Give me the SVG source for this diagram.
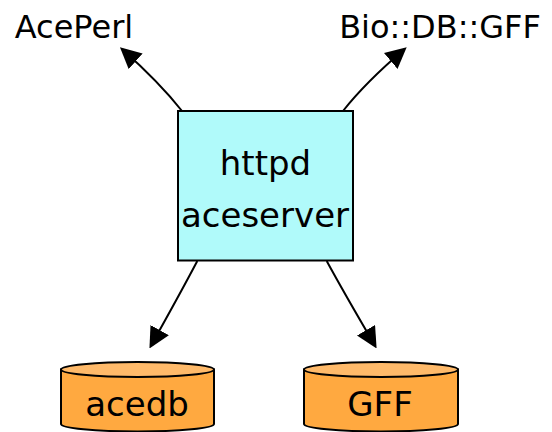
<svg xmlns="http://www.w3.org/2000/svg" width="552" height="432" viewBox="0 0 552 432">
  <style>
    text { font-family: "Comic Sans MS", "DejaVu Sans", sans-serif; fill: #000; text-anchor: middle; }
    .lbl { font-size: 32px; }
    .srv { font-size: 34px; }
    .db { font-size: 34px; }
    .box { fill: #B0FAFA; stroke: #000; stroke-width: 2; }
    .body { fill: #FFA940; stroke: #000; stroke-width: 2; }
    .lid { fill: #FFBA6A; stroke: #000; stroke-width: 2; }
    .edge { fill: none; stroke: #000; stroke-width: 2; marker-end: url(#arrow); }
  </style>
  <defs>
    <marker id="arrow" markerUnits="userSpaceOnUse" markerWidth="21" markerHeight="21" refX="18" refY="10.5" orient="auto">
      <path d="M0,0 L21,10.5 L0,21 z" fill="#000"/>
    </marker>
  </defs>

  <rect width="552" height="432" fill="#fff"/>

  <g id="connectors">
    <path class="edge" d="M182,111 Q159,82 122.2,49.3"/>
    <path class="edge" d="M343,111 Q366,82 404.4,49.3"/>
    <path class="edge" d="M197.3,261 Q181,292 150.9,345.8"/>
    <path class="edge" d="M326.7,261 Q343,291 375.1,345.8"/>
  </g>

  <g id="AcePerl">
    <text class="lbl" x="74" y="38">AcePerl</text>
  </g>

  <g id="BioDBGFF">
    <text class="lbl" x="440" y="38">Bio::DB::GFF</text>
  </g>

  <g id="httpd">
    <rect class="box" x="178" y="111" width="175" height="149.5"/>
    <text class="srv" x="265.5" y="175">httpd</text>
    <text class="srv" x="265" y="227">aceserver</text>
  </g>

  <g id="acedb">
    <path class="body" d="M61,369.5 L61,424 A76.5,7.5 0 0 0 214,424 L214,369.5 Z"/>
    <ellipse class="lid" cx="137.5" cy="369.5" rx="76.5" ry="7.5"/>
    <text class="db" x="137" y="416">acedb</text>
  </g>

  <g id="GFF">
    <path class="body" d="M304,369.5 L304,424 A77,7.5 0 0 0 458,424 L458,369.5 Z"/>
    <ellipse class="lid" cx="381" cy="369.5" rx="77" ry="7.5"/>
    <text class="db" x="380" y="416">GFF</text>
  </g>
</svg>
